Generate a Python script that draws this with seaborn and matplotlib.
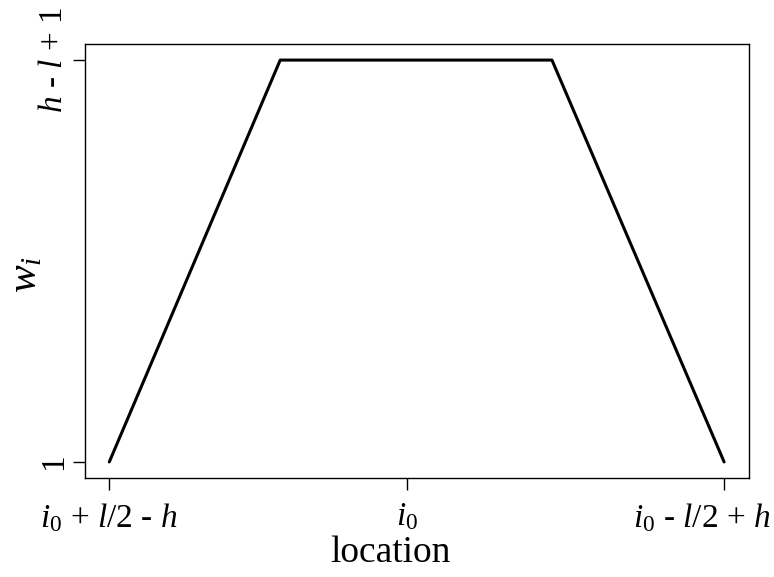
import matplotlib
matplotlib.use("Agg")
import matplotlib.pyplot as plt
import matplotlib.transforms as mtransforms
import seaborn as sns
import pandas as pd

# data (arbitrary units)
location = [0.0, 27.8, 72.0, 100.0]
weight = [1.0, 10.0, 10.0, 1.0]
x_tick_pos = [0.0, 48.4, 100.0]
x_tick_labels = [r"$\mathit{i}_{\mathit{0}}$ + $\mathit{l}$/$\mathit{2}$ - $\mathit{h}$",
                 r"$\mathit{i}_{\mathit{0}}$",
                 r"$\mathit{i}_{\mathit{0}}$ - $\mathit{l}$/$\mathit{2}$ + $\mathit{h}$"]
y_tick_pos = [1.0, 10.0]
y_tick_labels = ["1", r"$\mathit{h}$ - $\mathit{l}$ + 1"]

sns.set_style("ticks")
plt.rcParams["font.family"] = ["Liberation Serif", "DejaVu Serif"]
plt.rcParams["mathtext.fontset"] = "custom"
plt.rcParams["mathtext.rm"] = "Liberation Serif"
plt.rcParams["mathtext.it"] = "Liberation Serif:italic"
plt.rcParams["mathtext.bf"] = "Liberation Serif:bold"
plt.rcParams["text.color"] = "black"
plt.rcParams["axes.labelcolor"] = "black"
plt.rcParams["xtick.color"] = "black"
plt.rcParams["ytick.color"] = "black"
plt.rcParams["xtick.labelcolor"] = "black"
plt.rcParams["ytick.labelcolor"] = "black"

df = pd.DataFrame({"location": location, "w": weight})

fig = plt.figure(figsize=(7.74, 5.77), dpi=100)
ax = fig.add_axes([84.7 / 774, 1 - 478 / 577, (748.7 - 84.7) / 774, (478 - 44) / 577])
sns.lineplot(data=df, x="location", y="w", ax=ax, color="black", linewidth=2.2, sort=False)
ax.margins(x=0.04, y=0.04)

ax.set_xticks(x_tick_pos)
ax.set_xticklabels(x_tick_labels, fontsize=24)
ax.set_yticks(y_tick_pos)
ax.set_yticklabels(y_tick_labels, fontsize=24, rotation=90, va="center")
ax.tick_params(axis="both", length=8.6, width=1.0, color="black", labelcolor="black", direction="out")
ax.tick_params(axis="x", pad=8)
ax.tick_params(axis="y", pad=2.5)

# the right-most tick label is pushed inwards so it stays inside the figure
lbl = ax.get_xticklabels()[-1]
lbl.set_transform(lbl.get_transform() + mtransforms.ScaledTranslation(-0.22, 0, fig.dpi_scale_trans))

for s in ax.spines.values():
    s.set_visible(True)
    s.set_linewidth(1.0)
    s.set_color("black")

ax.set_xlabel("location", fontsize=27, color="black")
ax.xaxis.set_label_coords((390.7 - 84.7) / 664, (478 - 536) / 434)
ax.set_ylabel(r"$\mathit{w}_{\mathit{i}}$", fontsize=30, color="black")
ax.yaxis.set_label_coords(-0.059, 0.47)

fig.savefig("out.png", dpi=100)
